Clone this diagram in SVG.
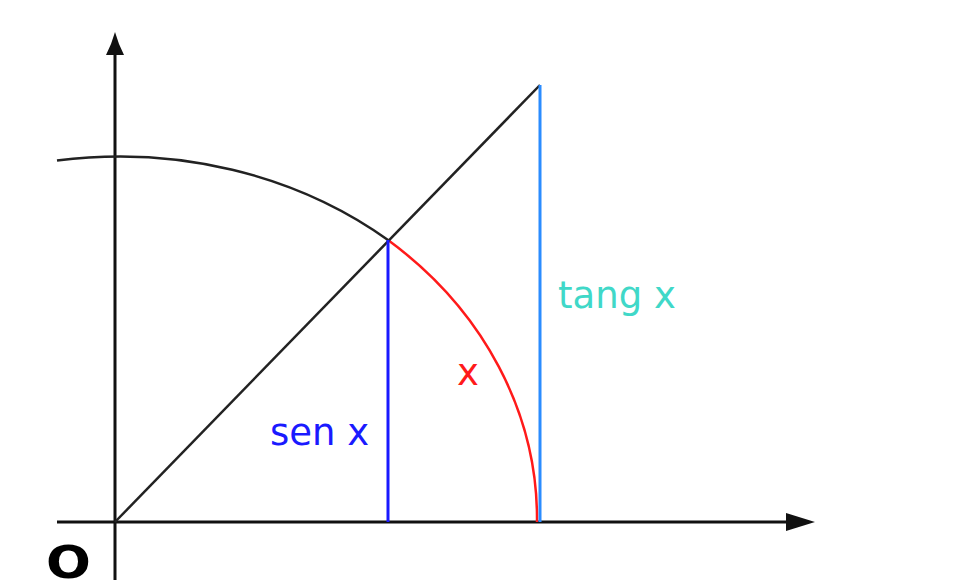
<svg xmlns="http://www.w3.org/2000/svg" width="971" height="580" viewBox="0 0 971 580">
<style>
.ax{stroke:#111;stroke-width:3;fill:none}
.thin{stroke:#222;stroke-width:2.5;fill:none}
.lbl{font-family:"DejaVu Sans",Verdana,sans-serif;font-size:37px}
</style>
<rect width="971" height="580" fill="#fff"/>
<g id="axes">
<line class="ax" x1="115" y1="40" x2="115" y2="580"/>
<line class="ax" x1="57" y1="522" x2="800" y2="522"/>
<polygon points="115,32 119,44 124,55 106,55 111,44" fill="#111"/>
<polygon points="786,513 786,531 815,522" fill="#111"/>
</g>
<g id="circle">
<path class="thin" d="M57,160.6 A421,365 0 0 1 388,240"/>
<path d="M388,240 A421,365 0 0 1 537,522" stroke="#ff1a1a" stroke-width="2.5" fill="none"/>
</g>
<g id="radius">
<line class="thin" x1="115" y1="522" x2="540" y2="85"/>
</g>
<g id="sine">
<line x1="388" y1="240" x2="388" y2="522" stroke="#1a1aff" stroke-width="3"/>
</g>
<g id="tangent">
<line x1="540" y1="85" x2="540" y2="522" stroke="#2b8cff" stroke-width="3"/>
</g>
<g id="labels">
<text class="lbl" x="558" y="308" fill="#40d8c8">tang x</text>
<text class="lbl" x="457" y="385" fill="#ff1a1a">x</text>
<text class="lbl" x="270" y="445" fill="#1a1aff">sen x</text>
<text transform="translate(46,578) scale(1.2,1)" font-family="'DejaVu Sans',Verdana,sans-serif" font-weight="bold" font-size="44" fill="#000">O</text>
</g>
</svg>
